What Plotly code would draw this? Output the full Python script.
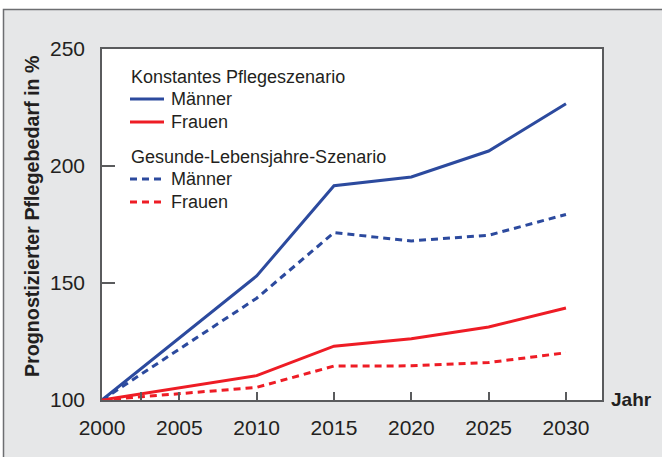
import plotly.graph_objects as go

years = [2000, 2010, 2015, 2020, 2025, 2030]
maenner_konst = [100, 153, 191.6, 195.3, 206.4, 226.6]
frauen_konst = [100, 110.4, 123, 126.2, 131.2, 139.3]
maenner_gesund = [100, 143.5, 171.5, 168, 170.4, 179.3]
frauen_gesund = [100, 105.4, 114.5, 114.6, 116, 120.2]

x_tickvals = [2000, 2002.5, 2005, 2010, 2015, 2020, 2025, 2030]
x_ticktext = ["2000", "", "2005", "2010", "2015", "2020", "2025", "2030"]
y_tickvals = [100, 150, 200, 250]

group_titles = ["Konstantes Pflegeszenario", "Gesunde-Lebensjahre-Szenario"]
series_names = ["Männer", "Frauen"]
y_title = "Prognostizierter Pflegebedarf in %"
x_title = "Jahr"

BLUE = "#2c4a9e"
RED = "#ee1c25"
TXT = "#231f20"
AX = "#5a5b5d"
DASH = "7px,5px"

L, R, T, B = 102, 60, 49, 57
W, H = 662, 457
pw, ph = W - L - R, H - T - B


def px_x(p):
    return (p - L) / pw


def px_y(p):
    return (H - B - p) / ph


fig = go.Figure()
series = [
    (maenner_konst, BLUE, "solid", series_names[0]),
    (frauen_konst, RED, "solid", series_names[1]),
    (maenner_gesund, BLUE, DASH, series_names[0]),
    (frauen_gesund, RED, DASH, series_names[1]),
]
for vals, col, dash, nm in series:
    fig.add_trace(go.Scatter(x=years, y=vals, mode="lines", name=nm,
                             line=dict(color=col, width=3, dash=dash),
                             showlegend=False))

shapes = [
    dict(type="rect", xref="paper", yref="paper",
         x0=px_x(3.5), x1=px_x(720), y0=px_y(520), y1=px_y(9.5),
         fillcolor="#e6e7e8", line=dict(color="#6d6e71", width=1.5), layer="below"),
    dict(type="rect", xref="paper", yref="paper",
         x0=0, x1=1, y0=0, y1=1,
         fillcolor="white", line=dict(width=0), layer="below"),
]
annotations = [
    dict(text="<b>" + x_title + "</b>", xref="paper", yref="paper", x=px_x(609), y=px_y(399),
         xanchor="left", yanchor="middle", showarrow=False,
         font=dict(size=19, color=TXT)),
    dict(text="<b>" + y_title + "</b>", xref="paper", yref="paper", x=px_x(32), y=px_y(216),
         xanchor="center", yanchor="middle", textangle=-90, showarrow=False,
         font=dict(size=19.7, color=TXT)),
]

# manual legend
leg_rows = [
    (77, group_titles[0], None, None),
    (99, series_names[0], BLUE, "solid"),
    (122, series_names[1], RED, "solid"),
    (157, group_titles[1], None, None),
    (179, series_names[0], BLUE, DASH),
    (202, series_names[1], RED, DASH),
]
for yy, txt, col, dash in leg_rows:
    if col is None:
        annotations.append(dict(text=txt, xref="paper", yref="paper",
                                x=px_x(129), y=px_y(yy), xanchor="left", yanchor="middle",
                                showarrow=False, font=dict(size=18, color=TXT)))
    else:
        shapes.append(dict(type="line", xref="paper", yref="paper",
                           x0=px_x(130), x1=px_x(164), y0=px_y(yy), y1=px_y(yy),
                           line=dict(color=col, width=3, dash=dash)))
        annotations.append(dict(text=txt, xref="paper", yref="paper",
                                x=px_x(169), y=px_y(yy), xanchor="left", yanchor="middle",
                                showarrow=False, font=dict(size=18, color=TXT)))

fig.update_layout(
    width=W, height=H,
    margin=dict(l=L, r=R, t=T, b=B, pad=0),
    paper_bgcolor="white",
    plot_bgcolor="white",
    font=dict(family="Liberation Sans, Arial, sans-serif", color=TXT, size=18),
    showlegend=False,
    shapes=shapes,
    annotations=annotations,
)

fig.update_xaxes(range=[2000, 2032.33], tickvals=x_tickvals, ticktext=x_ticktext,
                 ticks="inside", ticklen=8, tickwidth=1.5, tickcolor=AX,
                 showline=True, linecolor=AX, linewidth=1.5, mirror=True,
                 showgrid=False, zeroline=False,
                 tickfont=dict(size=21, color=TXT), ticklabelstandoff=8)
fig.update_yaxes(range=[100, 250], tickvals=y_tickvals,
                 ticks="inside", ticklen=13, tickwidth=1.5, tickcolor=AX,
                 showline=True, linecolor=AX, linewidth=1.5, mirror=True,
                 showgrid=False, zeroline=False,
                 tickfont=dict(size=21, color=TXT), ticklabelstandoff=11)

fig.write_html("out.html", config={"displayModeBar": False},
               post_script="document.body.style.margin='0';document.body.style.overflow='hidden';")
